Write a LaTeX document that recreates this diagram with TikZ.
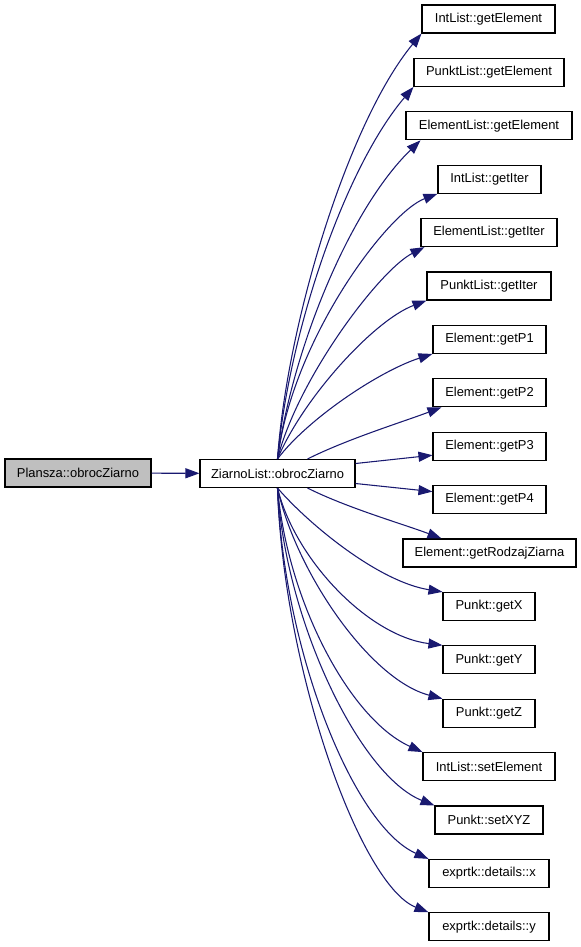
\documentclass[tikz,border=0pt]{standalone}
\usepackage{fontspec}
\setmainfont{Liberation Sans}
\usetikzlibrary{arrows.meta,calc}
\definecolor{edgeblue}{HTML}{191970}
\definecolor{rootgray}{HTML}{BFBFBF}

\begin{document}
\begin{tikzpicture}[x=0.75pt,y=-0.75pt,
  fn/.style={draw=black,line width=0.8pt,fill=white,minimum height=21pt,inner sep=0pt,font=\fontsize{9.7}{11}\selectfont},
  call/.style={edgeblue,line width=0.8pt,-{Triangle[length=10.5pt,width=7.5pt]}}]
\useasboundingbox (0,0) rectangle (581,947);

% callers
\node[fn,fill=rootgray,minimum width=109.5pt] (plansza) at (78,473) {Plansza::obrocZiarno};
\node[fn,minimum width=116.25pt] (zl) at (277.5,473.5) {ZiarnoList::obrocZiarno};

% callees
\node[fn,minimum width=99.75pt] (ie) at (488.5,19) {IntList::getElement};
\node[fn,minimum width=112.5pt] (pe) at (489,72.4) {PunktList::getElement};
\node[fn,minimum width=124.5pt] (ee) at (489,125.8) {ElementList::getElement};
\node[fn,minimum width=77.25pt] (ii) at (489.5,179.2) {IntList::getIter};
\node[fn,minimum width=102pt] (ei) at (489,232.6) {ElementList::getIter};
\node[fn,minimum width=93pt] (pi) at (489,286) {PunktList::getIter};
\node[fn,minimum width=84.75pt] (p1) at (489.5,339.4) {Element::getP1};
\node[fn,minimum width=84.75pt] (p2) at (489.5,392.8) {Element::getP2};
\node[fn,minimum width=84.75pt] (p3) at (489.5,446.2) {Element::getP3};
\node[fn,minimum width=84.75pt] (p4) at (489.5,499.6) {Element::getP4};
\node[fn,minimum width=129.75pt] (rz) at (489.5,553) {Element::getRodzajZiarna};
\node[fn,minimum width=69pt] (gx) at (489,606.4) {Punkt::getX};
\node[fn,minimum width=69pt] (gy) at (489,659.8) {Punkt::getY};
\node[fn,minimum width=69pt] (gz) at (489,713.2) {Punkt::getZ};
\node[fn,minimum width=99pt] (se) at (489,766.6) {IntList::setElement};
\node[fn,minimum width=81pt] (sx) at (489,820) {Punkt::setXYZ};
\node[fn,minimum width=90pt] (dx) at (489,873.4) {exprtk::details::x};
\node[fn,minimum width=90pt] (dy) at (489,926.8) {exprtk::details::y};

% calls
\draw[call] (plansza) -- (zl);
\draw[call] (zl.north) .. controls +(10,-140) and +(-72,87) .. (ie.south west);
\draw[call] (zl.north) .. controls +(12,-130) and +(-68,80) .. (pe.south west);
\draw[call] (zl.north) .. controls +(15,-110) and +(-71,69) .. ($(ee.south west)+(15,0)$);
\draw[call] (zl.north) .. controls +(15,-120) and +(-50,19) .. (ii.south west);
\draw[call] (zl.north) .. controls +(20,-80) and +(-45,23) .. ($(ei.south west)+(4,0)$);
\draw[call] (zl.north) .. controls +(25,-60) and +(-53,20) .. (pi.south west);
\draw[call] (zl.north) .. controls +(30,-40) and +(-53,17) .. (p1.south west);
\draw[call] ($(zl.north)+(30,0)$) .. controls +(40,-20) and +(-40,15) .. ($(p2.south west)+(9,0)$);
\draw[call] ($(zl.east)+(0,-10)$) -- ($(p3.west)+(0,9)$);
\draw[call] ($(zl.east)+(0,10)$) -- ($(p4.west)+(0,-8)$);
\draw[call] ($(zl.south)+(30,0)$) .. controls +(40,20) and +(-40,-15) .. ($(rz.north west)+(39,0)$);
\draw[call] (zl.south) .. controls +(33,38) and +(-63,-10) .. (gx.north west);
\draw[call] (zl.south) .. controls +(18,73) and +(-73,-9) .. (gy.north west);
\draw[call] (zl.south) .. controls +(18,83) and +(-73,-19) .. (gz.north west);
\draw[call] (zl.south) .. controls +(10,113) and +(-73,-33) .. (se.north west);
\draw[call] (zl.south) .. controls +(8,133) and +(-75,-30) .. (sx.north west);
\draw[call] (zl.south) .. controls +(6,163) and +(-75,-33) .. (dx.north west);
\draw[call] (zl.south) .. controls +(6,183) and +(-68,-27) .. (dy.north west);

\end{tikzpicture}
\end{document}
